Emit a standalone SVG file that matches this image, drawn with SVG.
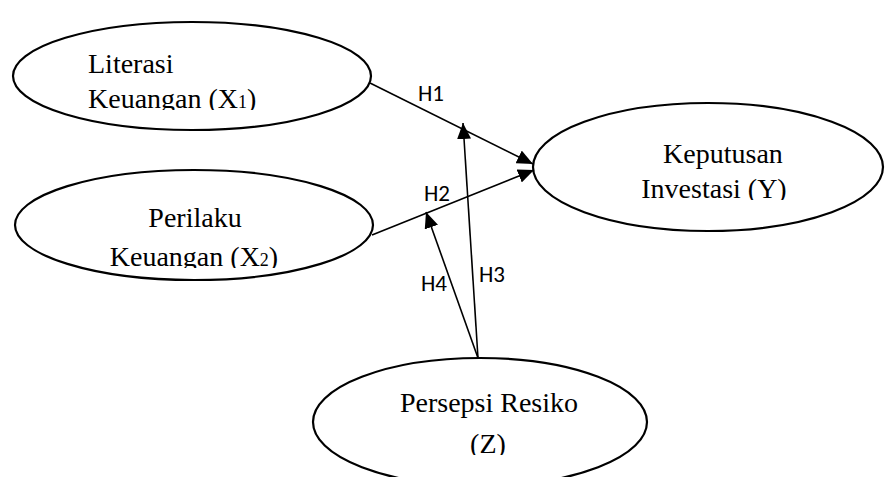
<svg xmlns="http://www.w3.org/2000/svg" width="894" height="477" viewBox="0 0 894 477">
<style>
.node ellipse{fill:#fff;stroke:#000;stroke-width:2.2}
.t{font-family:"Liberation Serif","Times New Roman",serif;font-size:28px;fill:#000}
.h{font-family:"Carlito","Liberation Sans",Arial,sans-serif;font-size:23px;fill:#000}
.conn line{stroke:#000;stroke-width:1.6}
</style>
<defs>
<marker id="ah" markerUnits="userSpaceOnUse" markerWidth="16" markerHeight="14" refX="16" refY="7" orient="auto">
<path d="M0,0 L16,7 L0,14 Z" fill="#000"/>
</marker>
<clipPath id="c1"><rect x="0" y="0" width="894" height="110"/></clipPath>
<clipPath id="c2"><rect x="0" y="0" width="894" height="268"/></clipPath>
<clipPath id="c3"><rect x="0" y="0" width="894" height="200"/></clipPath>
<clipPath id="c4"><rect x="0" y="0" width="894" height="455"/></clipPath>
</defs>
<rect width="894" height="477" fill="#fff"/>
<g id="n1" class="node">
<ellipse cx="192" cy="76" rx="179" ry="54"/>
<text class="t" x="88" y="73">Literasi</text>
<text class="t" x="88" y="108" clip-path="url(#c1)">Keuangan (X<tspan font-size="18">1</tspan>)</text>
</g>
<g id="n2" class="node">
<ellipse cx="194" cy="225" rx="179" ry="55"/>
<text class="t" x="195" y="227" text-anchor="middle">Perilaku</text>
<text class="t" x="194" y="266" text-anchor="middle" clip-path="url(#c2)">Keuangan (X<tspan font-size="18">2</tspan>)</text>
</g>
<g id="n3" class="node">
<ellipse cx="708" cy="167" rx="175" ry="64"/>
<text class="t" x="723" y="163" text-anchor="middle">Keputusan</text>
<text class="t" x="714" y="198" text-anchor="middle" clip-path="url(#c3)">Investasi (Y)</text>
</g>
<g id="n4" class="node">
<ellipse cx="480" cy="422" rx="167" ry="64"/>
<text class="t" x="489" y="412" text-anchor="middle">Persepsi Resiko</text>
<text class="t" x="488" y="453" text-anchor="middle" clip-path="url(#c4)">(Z)</text>
</g>
<g id="connectors" class="conn">
<line x1="370" y1="83" x2="533" y2="164" marker-end="url(#ah)"/>
<line x1="372" y1="235" x2="534" y2="170" marker-end="url(#ah)"/>
<line x1="478" y1="358" x2="463" y2="123" marker-end="url(#ah)"/>
<line x1="478" y1="358" x2="426" y2="212" marker-end="url(#ah)"/>
</g>
<g id="labels">
<text class="h" x="418" y="101">H1</text>
<text class="h" x="424" y="201">H2</text>
<text class="h" x="479" y="282">H3</text>
<text class="h" x="421" y="291">H4</text>
</g>
</svg>
